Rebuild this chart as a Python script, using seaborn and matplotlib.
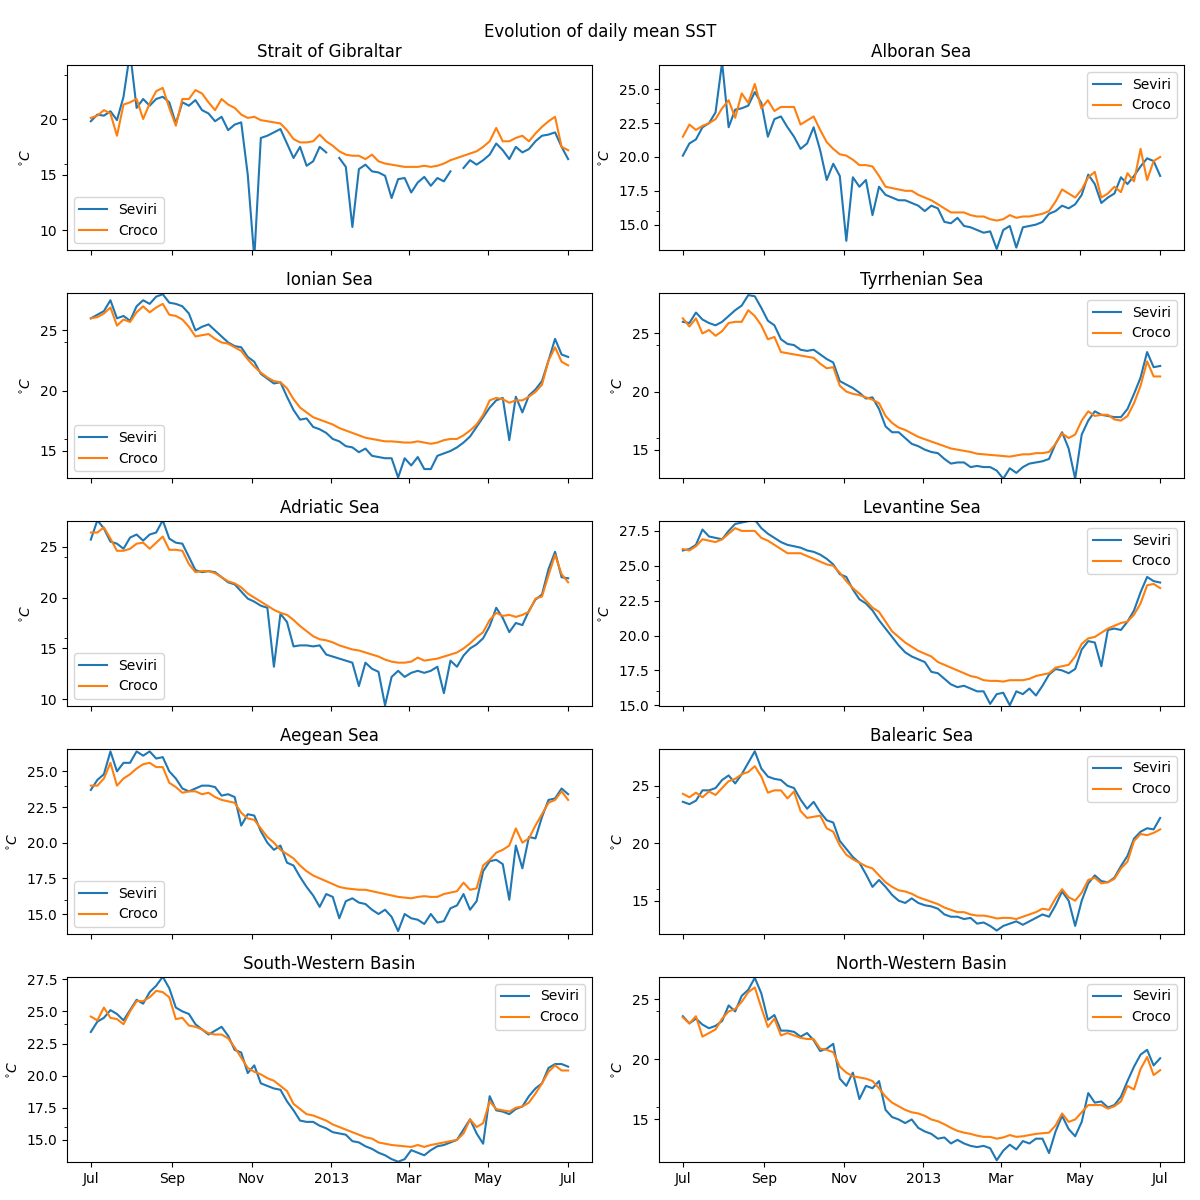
import numpy as np
import pandas as pd
import matplotlib
matplotlib.use("Agg")
import matplotlib.pyplot as plt
import matplotlib.dates as mdates
from matplotlib.ticker import MultipleLocator
import seaborn as sns

nan = np.nan

# sampling grid: days after 2012-07-01, every 5 days up to 2013-07-01
start_date = "2012-07-01"
day_offsets = list(range(0, 366, 5))

regions = ["Strait of Gibraltar", "Alboran Sea", "Ionian Sea", "Tyrrhenian Sea",
           "Adriatic Sea", "Levantine Sea", "Aegean Sea", "Balearic Sea",
           "South-Western Basin", "North-Western Basin"]

gib_seviri = [19.8, 20.4, 20.3, 20.7, 19.9, 22.0, 26.0, 21.0, 21.8, 21.2,
              21.8, 22.0, 21.5, 19.6, 21.5, 21.2, 21.7, 20.8, 20.5, 19.8,
              20.2, 19.0, 19.5, 19.7, 15.0, 7.5, 18.3, 18.5, 18.8, 19.1,
              17.8, 16.5, 17.5, 15.8, 16.2, 17.5, 17.0, nan, 16.5, 15.7,
              10.3, 15.5, 15.9, 15.3, 15.2, 14.9, 12.9, 14.6, 14.7, 13.4,
              14.3, 14.8, 14.0, 14.7, 14.4, 15.3, nan, 15.6, 16.3, 15.9,
              16.3, 16.8, 17.8, 17.2, 16.4, 17.5, 17.0, 17.3, 18.0, 18.5,
              18.6, 18.8, 17.5, 16.4]
gib_croco = [20.1, 20.3, 20.8, 20.5, 18.5, 21.3, 21.5, 21.8, 20.0, 21.4,
             22.5, 22.8, 21.0, 19.4, 21.8, 21.8, 22.6, 22.3, 21.5, 20.8,
             21.8, 21.3, 21.0, 20.4, 20.1, 20.2, 19.9, 19.8, 19.7, 19.6,
             19.0, 18.2, 17.9, 17.9, 18.0, 18.6, 18.0, 17.6, 17.1, 16.8,
             16.7, 16.7, 16.4, 16.8, 16.2, 16.0, 15.9, 15.8, 15.7, 15.7,
             15.7, 15.8, 15.7, 15.8, 16.0, 16.3, 16.5, 16.7, 16.9, 17.1,
             17.5, 18.0, 19.2, 18.0, 18.0, 18.3, 18.5, 18.0, 18.7, 19.3,
             19.8, 20.2, 17.5, 17.2]

alb_seviri = [20.1, 21.0, 21.3, 22.2, 22.5, 23.3, 27.0, 22.2, 23.5, 23.6,
              23.8, 24.8, 24.0, 21.5, 22.8, 23.0, 22.2, 21.5, 20.6, 21.0,
              22.2, 20.5, 18.3, 19.5, 18.6, 13.8, 18.5, 17.8, 18.3, 15.7,
              17.8, 17.2, 17.0, 16.8, 16.8, 16.6, 16.4, 16.0, 16.4, 16.2,
              15.2, 15.1, 15.5, 14.9, 14.8, 14.6, 14.4, 14.5, 13.2, 14.6,
              14.9, 13.3, 14.8, 14.9, 15.0, 15.2, 15.8, 16.0, 16.4, 16.2,
              16.5, 17.2, 18.7, 18.0, 16.6, 17.0, 17.3, 18.5, 18.0, 18.6,
              19.3, 19.9, 19.7, 18.6]
alb_croco = [21.5, 22.4, 22.0, 22.3, 22.5, 22.8, 23.6, 24.2, 22.9, 24.7,
             24.0, 25.4, 23.6, 24.2, 23.4, 23.7, 23.7, 23.7, 22.4, 22.7,
             23.0, 22.0, 21.1, 20.6, 20.2, 20.1, 19.8, 19.4, 19.4, 19.3,
             18.6, 17.8, 17.7, 17.6, 17.5, 17.5, 17.2, 17.0, 16.8, 16.5,
             16.2, 15.9, 15.9, 15.9, 15.7, 15.6, 15.6, 15.4, 15.3, 15.4,
             15.7, 15.5, 15.6, 15.6, 15.7, 15.8, 16.0, 16.7, 17.6, 17.3,
             17.0, 17.6, 18.5, 18.9, 17.0, 17.3, 17.8, 17.4, 18.8, 18.2,
             20.6, 18.3, 19.7, 20.0]

ion_seviri = [26.0, 26.3, 26.6, 27.5, 26.0, 26.2, 25.8, 27.0, 27.5, 27.2,
              27.8, 28.0, 27.3, 27.2, 27.0, 26.4, 25.0, 25.3, 25.5, 25.0,
              24.5, 24.0, 23.7, 23.6, 22.8, 22.4, 21.4, 21.0, 20.6, 20.7,
              19.5, 18.4, 17.6, 17.7, 17.0, 16.8, 16.5, 16.0, 15.8, 15.4,
              15.3, 14.9, 15.2, 14.6, 14.5, 14.4, 14.4, 12.8, 14.4, 13.8,
              14.5, 13.5, 13.5, 14.6, 14.8, 15.0, 15.3, 15.7, 16.2, 17.0,
              17.8, 18.6, 19.2, 19.4, 15.9, 19.5, 18.2, 19.6, 20.1, 20.8,
              22.5, 24.3, 23.0, 22.8]
ion_croco = [26.0, 26.1, 26.4, 26.9, 25.4, 25.9, 25.7, 26.5, 27.0, 26.5,
             26.9, 27.2, 26.3, 26.2, 25.9, 25.3, 24.5, 24.6, 24.7, 24.3,
             24.0, 23.9, 23.6, 23.3, 22.6, 22.0, 21.5, 21.1, 20.8, 20.7,
             20.2, 19.3, 18.6, 18.2, 17.8, 17.6, 17.4, 17.2, 16.9, 16.7,
             16.5, 16.3, 16.1, 16.0, 15.9, 15.8, 15.8, 15.75, 15.7, 15.7,
             15.8, 15.7, 15.6, 15.7, 15.9, 16.0, 16.0, 16.3, 16.7, 17.2,
             18.0, 19.2, 19.4, 19.3, 19.0, 19.2, 19.2, 19.5, 19.9, 20.5,
             22.5, 23.6, 22.4, 22.1]

tyr_seviri = [26.0, 25.9, 26.8, 26.2, 25.9, 25.7, 26.0, 26.5, 27.0, 27.4,
              28.3, 28.2, 27.2, 26.1, 25.7, 24.5, 24.1, 24.0, 23.6, 23.5,
              23.6, 23.2, 22.8, 22.5, 20.9, 20.6, 20.3, 19.9, 19.4, 19.5,
              18.5, 17.0, 16.5, 16.5, 16.0, 15.5, 15.3, 15.0, 14.8, 14.7,
              14.2, 13.8, 13.9, 13.9, 13.5, 13.6, 13.5, 13.5, 13.2, 12.5,
              13.4, 13.0, 13.5, 13.8, 13.9, 14.0, 14.2, 15.5, 16.5, 15.1,
              12.5, 16.3, 17.5, 18.3, 18.0, 17.9, 17.8, 17.8, 18.5, 19.8,
              21.2, 23.4, 22.1, 22.2]
tyr_croco = [26.3, 25.6, 26.3, 25.0, 25.3, 24.8, 25.2, 25.9, 26.0, 26.0,
             27.0, 26.5, 25.7, 24.5, 24.7, 23.4, 23.3, 23.2, 23.1, 23.0,
             22.9, 22.4, 22.0, 22.1, 20.5, 20.0, 19.8, 19.7, 19.5, 19.3,
             19.0, 17.9, 17.3, 16.9, 16.7, 16.4, 16.1, 15.9, 15.7, 15.5,
             15.3, 15.1, 15.0, 14.9, 14.8, 14.65, 14.6, 14.55, 14.5, 14.45,
             14.4, 14.5, 14.6, 14.6, 14.7, 14.7, 14.8, 15.5, 16.4, 16.0,
             16.3, 17.5, 18.3, 17.9, 18.0, 18.0, 17.6, 17.5, 17.9, 19.0,
             20.5, 22.6, 21.3, 21.3]

adr_seviri = [25.7, 27.6, 26.8, 25.5, 25.3, 24.8, 25.9, 26.2, 25.6, 26.2,
              26.4, 27.6, 25.8, 25.4, 25.3, 24.0, 22.7, 22.5, 22.6, 22.5,
              22.0, 21.5, 21.3, 20.6, 19.9, 19.6, 19.2, 19.0, 13.2, 18.4,
              17.6, 15.2, 15.3, 15.3, 15.2, 15.3, 14.4, 14.2, 14.0, 13.8,
              13.6, 11.3, 13.6, 13.0, 12.7, 9.4, 12.2, 12.8, 12.2, 12.6,
              12.8, 12.6, 12.8, 13.2, 10.6, 13.8, 13.2, 14.3, 15.0, 15.4,
              16.0, 17.2, 19.0, 18.0, 16.6, 17.5, 17.3, 18.7, 19.8, 20.3,
              22.8, 24.5, 22.0, 21.9]
adr_croco = [26.4, 26.4, 26.9, 25.8, 24.6, 24.6, 24.8, 25.3, 25.4, 24.8,
             25.4, 26.0, 24.7, 24.7, 24.6, 23.3, 22.5, 22.6, 22.6, 22.4,
             22.0, 21.6, 21.4, 21.0, 20.4, 20.0, 19.6, 19.2, 18.8, 18.5,
             18.3, 17.8, 17.2, 16.7, 16.2, 15.9, 15.8, 15.6, 15.3, 15.1,
             14.9, 14.8, 14.6, 14.4, 14.2, 13.9, 13.7, 13.6, 13.6, 13.7,
             14.1, 13.8, 13.9, 14.0, 14.2, 14.4, 14.6, 15.0, 15.5, 16.1,
             16.6, 17.8, 18.5, 18.2, 18.3, 18.1, 18.3, 18.6, 19.9, 20.1,
             22.2, 24.2, 22.3, 21.5]

lev_seviri = [26.1, 26.2, 26.5, 27.6, 27.1, 27.0, 26.9, 27.5, 28.0, 28.1,
              28.2, 28.3, 27.7, 27.3, 27.0, 26.7, 26.5, 26.4, 26.3, 26.1,
              26.0, 25.8, 25.5, 25.1, 24.4, 24.2, 23.3, 22.6, 22.3, 21.8,
              21.1, 20.5, 19.9, 19.3, 18.8, 18.5, 18.3, 18.1, 17.4, 17.3,
              16.9, 16.5, 16.3, 16.4, 16.2, 16.0, 16.0, 15.1, 15.8, 15.9,
              15.0, 16.0, 15.8, 16.2, 15.7, 16.4, 17.2, 17.6, 17.5, 17.3,
              17.6, 19.0, 19.6, 19.5, 17.8, 20.4, 20.5, 20.4, 21.0, 21.8,
              23.1, 24.2, 23.9, 23.8]
lev_croco = [26.2, 26.1, 26.4, 26.9, 26.8, 26.7, 26.9, 27.3, 27.7, 27.5,
             27.5, 27.5, 27.0, 26.8, 26.5, 26.2, 25.9, 25.9, 25.9, 25.7,
             25.5, 25.3, 25.1, 25.0, 24.5, 23.9, 23.4, 23.0, 22.5, 22.0,
             21.7, 21.0, 20.3, 19.9, 19.5, 19.2, 18.9, 18.7, 18.5, 18.1,
             17.9, 17.7, 17.5, 17.3, 17.1, 17.0, 16.8, 16.75, 16.75, 16.7,
             16.8, 16.8, 16.8, 16.9, 17.1, 17.2, 17.3, 17.7, 17.8, 17.9,
             18.5, 19.4, 19.8, 19.9, 20.2, 20.5, 20.7, 20.9, 21.0, 21.5,
             22.3, 23.6, 23.7, 23.4]

aeg_seviri = [23.7, 24.4, 24.8, 26.4, 25.0, 25.6, 25.6, 26.4, 26.1, 26.4,
              25.9, 26.0, 25.0, 24.5, 23.8, 23.6, 23.8, 24.0, 24.0, 23.9,
              23.3, 23.4, 23.2, 21.2, 22.0, 21.9, 20.8, 20.0, 19.5, 19.8,
              18.6, 18.4, 17.6, 16.9, 16.3, 15.5, 16.4, 16.2, 14.7, 15.9,
              16.1, 15.8, 15.7, 15.3, 15.0, 15.3, 14.8, 13.8, 15.0, 14.7,
              14.6, 14.3, 15.0, 14.4, 14.5, 15.4, 15.6, 16.4, 15.3, 15.9,
              18.0, 18.7, 18.8, 18.5, 16.0, 19.8, 18.2, 20.4, 20.3, 21.8,
              23.0, 23.1, 23.8, 23.4]
aeg_croco = [24.0, 24.0, 24.5, 25.6, 24.0, 24.5, 24.8, 25.2, 25.5, 25.6,
             25.3, 25.3, 24.2, 23.9, 23.5, 23.6, 23.6, 23.4, 23.5, 23.2,
             23.0, 22.9, 22.8, 22.1, 21.7, 21.6, 21.0, 20.4, 20.0, 19.5,
             19.2, 18.9, 18.4, 18.0, 17.7, 17.5, 17.3, 17.1, 16.9, 16.8,
             16.75, 16.7, 16.7, 16.6, 16.5, 16.4, 16.3, 16.2, 16.15, 16.1,
             16.2, 16.25, 16.2, 16.2, 16.4, 16.5, 16.6, 17.2, 16.7, 16.8,
             18.4, 18.8, 19.3, 19.5, 19.8, 21.0, 20.0, 20.3, 21.2, 22.0,
             22.8, 23.0, 23.6, 23.0]

bal_seviri = [23.6, 23.4, 23.7, 24.6, 24.6, 24.8, 25.5, 25.9, 25.2, 26.0,
              27.0, 28.0, 26.5, 25.8, 25.6, 25.5, 25.0, 24.8, 23.8, 23.0,
              23.6, 22.7, 22.0, 21.8, 20.2, 19.5, 18.8, 18.3, 17.3, 16.2,
              16.8, 16.2, 15.5, 15.0, 14.8, 15.2, 14.8, 14.6, 14.5, 14.3,
              13.8, 13.6, 13.6, 13.4, 13.5, 13.0, 13.1, 12.8, 12.4, 12.8,
              13.0, 13.2, 12.9, 13.2, 13.5, 13.8, 13.6, 14.6, 15.8, 15.0,
              12.8, 15.0, 16.5, 17.2, 16.7, 16.6, 17.0, 18.0, 18.9, 20.4,
              21.0, 21.3, 21.2, 22.2]
bal_croco = [24.3, 24.0, 24.4, 24.0, 24.5, 24.2, 24.8, 25.4, 25.6, 26.0,
             26.2, 26.7, 25.8, 24.4, 24.6, 24.6, 23.9, 24.5, 22.8, 22.2,
             22.3, 22.4, 21.3, 21.0, 19.8, 19.0, 18.6, 18.3, 18.0, 17.8,
             17.2, 16.6, 16.2, 15.9, 15.8, 15.6, 15.3, 15.1, 14.9, 14.7,
             14.4, 14.2, 14.0, 14.0, 13.8, 13.7, 13.7, 13.6, 13.45, 13.5,
             13.5, 13.4, 13.6, 13.8, 14.0, 14.3, 14.2, 15.2, 16.0, 15.3,
             15.0, 15.7, 16.8, 17.0, 16.5, 16.6, 16.9, 17.8, 18.4, 20.2,
             20.8, 20.7, 20.9, 21.2]

sw_seviri = [23.4, 24.2, 24.5, 25.1, 24.8, 24.3, 25.1, 25.9, 25.6, 26.5,
             27.0, 27.7, 26.8, 25.3, 25.0, 24.8, 24.0, 23.6, 23.2, 23.5,
             23.8, 23.1, 22.0, 21.8, 20.2, 20.8, 19.4, 19.2, 19.0, 18.9,
             18.0, 17.3, 16.5, 16.4, 16.4, 16.1, 15.9, 15.6, 15.5, 15.4,
             14.9, 14.8, 14.5, 14.3, 14.0, 13.8, 13.5, 13.3, 13.5, 14.2,
             14.0, 13.8, 14.2, 14.5, 14.6, 14.8, 15.0, 15.8, 16.6, 15.5,
             14.7, 18.4, 17.3, 17.2, 17.0, 17.4, 17.6, 18.4, 19.0, 19.4,
             20.6, 20.9, 20.9, 20.7]
sw_croco = [24.6, 24.3, 25.3, 24.5, 24.4, 24.0, 25.0, 25.8, 25.8, 26.1,
            26.6, 26.5, 26.1, 24.4, 24.5, 23.9, 23.8, 23.6, 23.3, 23.2,
            23.2, 22.9, 22.2, 21.4, 20.6, 20.3, 20.1, 19.8, 19.6, 19.2,
            18.8, 17.8, 17.4, 17.0, 16.9, 16.7, 16.5, 16.2, 16.0, 15.8,
            15.6, 15.4, 15.2, 15.1, 14.8, 14.7, 14.6, 14.55, 14.5, 14.45,
            14.6, 14.45, 14.6, 14.7, 14.8, 14.9, 15.0, 15.5, 16.6, 16.0,
            16.3, 18.0, 17.4, 17.3, 17.2, 17.5, 17.6, 17.9, 18.6, 19.4,
            20.3, 20.8, 20.4, 20.4]

nw_seviri = [23.6, 23.0, 23.4, 22.9, 22.6, 22.8, 23.2, 24.5, 24.0, 25.3,
             25.8, 26.8, 25.5, 23.3, 23.7, 22.4, 22.4, 22.3, 21.9, 22.2,
             21.6, 20.7, 20.9, 21.3, 18.4, 17.8, 18.9, 16.7, 17.8, 17.6,
             18.2, 15.8, 15.2, 15.0, 14.7, 15.0, 14.3, 14.0, 13.8, 13.4,
             13.5, 13.0, 13.3, 13.0, 12.8, 12.7, 12.8, 12.6, 11.6, 12.4,
             12.9, 12.5, 13.2, 13.0, 13.4, 13.4, 12.2, 14.0, 15.3, 14.2,
             13.6, 14.8, 17.2, 16.4, 16.5, 16.0, 16.2, 16.9, 18.2, 19.4,
             20.4, 20.8, 19.5, 20.1]
nw_croco = [23.5, 23.0, 23.6, 21.9, 22.2, 22.5, 23.4, 24.0, 24.2, 24.8,
            25.6, 26.0, 24.3, 22.7, 23.4, 22.0, 22.2, 22.0, 21.8, 21.7,
            21.7, 20.9, 20.8, 20.6, 19.4, 18.9, 18.6, 18.5, 18.4, 18.2,
            17.6, 16.9, 16.4, 16.1, 15.8, 15.6, 15.5, 15.3, 15.0, 14.85,
            14.6, 14.3, 14.05, 13.9, 13.8, 13.65, 13.55, 13.55, 13.4, 13.5,
            13.7, 13.55, 13.6, 13.7, 13.8, 13.85, 13.9, 14.5, 15.5, 14.8,
            15.0, 15.6, 16.2, 16.2, 16.2, 15.9, 16.1, 16.5, 17.8, 17.5,
            19.2, 20.2, 18.7, 19.1]

seviri_series = [gib_seviri, alb_seviri, ion_seviri, tyr_seviri, adr_seviri,
                 lev_seviri, aeg_seviri, bal_seviri, sw_seviri, nw_seviri]
croco_series = [gib_croco, alb_croco, ion_croco, tyr_croco, adr_croco,
                lev_croco, aeg_croco, bal_croco, sw_croco, nw_croco]

y_limits = [(8.23, 24.85), (13.12, 26.8), (12.76, 28.1), (12.56, 28.48),
            (9.34, 27.53), (14.95, 28.21), (13.6, 26.57), (12.1, 28.2),
            (13.28, 27.68), (11.46, 26.87)]
y_steps = [5, 2.5, 5, 5, 5, 2.5, 2.5, 5, 2.5, 5]
legend_locs = ["lower left", "upper right", "lower left", "upper right",
               "lower left", "upper right", "lower left", "upper right",
               "upper right", "upper right"]

dates = pd.Timestamp(start_date) + pd.to_timedelta(day_offsets, unit="D")

fig, axes = plt.subplots(5, 2, figsize=(12, 12), dpi=100, sharex=True)
fig.subplots_adjust(left=0.0558, right=0.9867, top=0.9458, bottom=0.0317,
                    wspace=0.1276, hspace=0.2324)
fig.suptitle("Evolution of daily mean SST", fontsize=12, y=0.981)

blue, orange = "#1f77b4", "#ff7f0e"


def draw_segments(ax, x, y, color, label):
    df = pd.DataFrame({"date": x, "sst": y})
    seg_id = df["sst"].isna().cumsum()
    first = True
    for _, seg in df[df["sst"].notna()].groupby(seg_id[df["sst"].notna()]):
        sns.lineplot(data=seg, x="date", y="sst", ax=ax, color=color,
                     estimator=None, linewidth=1.5,
                     label=label if first else "_nolegend_", legend=False)
        first = False


for i, ax in enumerate(axes.flat):
    draw_segments(ax, dates, seviri_series[i], blue, "Seviri")
    draw_segments(ax, dates, croco_series[i], orange, "Croco")
    ax.set_title(regions[i], fontsize=12)
    ax.set_ylim(*y_limits[i])
    ax.yaxis.set_major_locator(MultipleLocator(y_steps[i]))
    ax.set_yticks([16, 24], minor=True)
    ax.set_ylabel(r"$^{\circ}C$")
    ax.set_xlabel("")
    ax.legend(loc=legend_locs[i], fontsize=10)

locator = mdates.MonthLocator(bymonth=[1, 3, 5, 7, 9, 11])
for ax in axes.flat:
    ax.xaxis.set_major_locator(locator)
    ax.xaxis.set_major_formatter(mdates.ConciseDateFormatter(locator))

fig.savefig("out.png", dpi=100)
